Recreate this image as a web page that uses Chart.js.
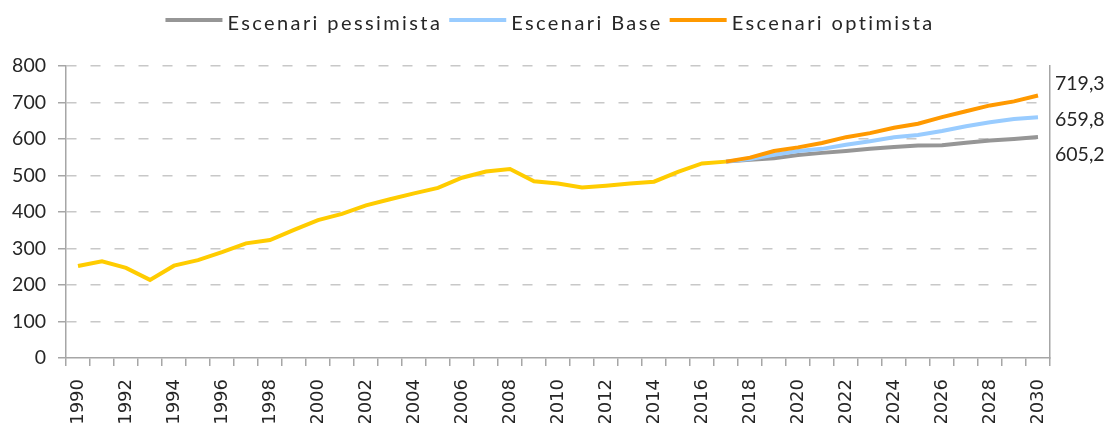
<!DOCTYPE html>
<html>
<head>
<meta charset="utf-8">
<script src="https://cdn.jsdelivr.net/npm/chart.js@4/dist/chart.umd.min.js"></script>
<style>
html,body{margin:0;padding:0;background:#ffffff;}
#wrap{width:1112px;height:423px;position:relative;}
</style>
</head>
<body>
<div id="wrap"><canvas id="c" width="1112" height="423"></canvas></div>
<script>
// ---- data ----
const categories = ['1990','1991','1992','1993','1994','1995','1996','1997','1998','1999',
  '2000','2001','2002','2003','2004','2005','2006','2007','2008','2009',
  '2010','2011','2012','2013','2014','2015','2016','2017','2018','2019',
  '2020','2021','2022','2023','2024','2025','2026','2027','2028','2029','2030'];

const historic = [252,265,247,214,253,268,290,314,323,351,
  378,395,418,435,451,466,494,511,518,484,
  478,467,472,478,483,510,533,538,
  null,null,null,null,null,null,null,null,null,null,null,null,null];

const leadNulls = [null,null,null,null,null,null,null,null,null,null,
  null,null,null,null,null,null,null,null,null,null,
  null,null,null,null,null,null,null];

const pessimista = leadNulls.concat([538,543,547,556,562,567,573,578,582,583,590,596,600,605.2]);
const base       = leadNulls.concat([538,545,557,567,573,584,594,605,611,622,635,646,655,659.8]);
const optimista  = leadNulls.concat([538,549,567,577,589,605,616,631,642,660,676,692,703,719.3]);

const seriesNames = ['Històric','Escenari pessimista','Escenari Base','Escenari optimista'];
const yTicks = [0,100,200,300,400,500,600,700,800];

// ---- styles ----
const colors = ['#FFCC00','#969696','#99CCFF','#FF9900'];
const axisGray = '#a6a6a6';
const gridGray = '#c8c8c8';
const textColor = '#262626';

const legendPlugin = {
  id: 'customLegend',
  afterDraw(chart) {
    const ctx = chart.ctx;
    ctx.save();
    ctx.font = '20px Lato';
    ctx.letterSpacing = '2.4px';
    ctx.textBaseline = 'alphabetic';
    const items = chart.data.datasets.filter(d => d.showInLegend);
    const lineLen = 57, gapLT = 5, gapItem = 7;
    let total = 0;
    const widths = items.map(d => ctx.measureText(d.label).width);
    items.forEach((d, i) => { total += lineLen + gapLT + widths[i] + (i < items.length - 1 ? gapItem : 0); });
    let x = chart.width / 2 - 6 - total / 2;
    const yLine = 20, yText = 30;
    items.forEach((d, i) => {
      ctx.strokeStyle = d.borderColor;
      ctx.lineWidth = 4;
      ctx.beginPath();
      ctx.moveTo(x, yLine);
      ctx.lineTo(x + lineLen, yLine);
      ctx.stroke();
      x += lineLen + gapLT;
      ctx.fillStyle = textColor;
      ctx.textAlign = 'left';
      ctx.fillText(d.label, x, yText);
      x += widths[i] + gapItem;
    });
    ctx.restore();
  }
};

const endLabelPlugin = {
  id: 'endLabels',
  afterDraw(chart) {
    const ctx = chart.ctx;
    const ys = chart.scales.y;
    const area = chart.chartArea;
    const last = categories.length - 1;
    const items = chart.data.datasets.filter(d => d.showInLegend)
      .map(d => d.data[last])
      .sort((a, b) => b - a);
    const pix = items.map(v => ys.getPixelForValue(v));
    const mean = pix.reduce((a, b) => a + b, 0) / pix.length;
    ctx.save();
    ctx.font = '19.5px Lato';
    ctx.fillStyle = textColor;
    ctx.textAlign = 'left';
    ctx.textBaseline = 'middle';
    items.forEach((v, i) => {
      const y = mean + 3 + (i - (items.length - 1) / 2) * 35.5;
      ctx.fillText(v.toFixed(1).replace('.', ','), area.right + 5, y);
    });
    ctx.restore();
  }
};

const mk = (label, data, color, order, inLegend) => ({
  label, data,
  borderColor: color, backgroundColor: color,
  borderWidth: 4, pointRadius: 0, pointHoverRadius: 0,
  tension: 0, fill: false, spanGaps: false,
  order, showInLegend: inLegend
});

new Chart(document.getElementById('c'), {
  type: 'line',
  data: {
    labels: categories,
    datasets: [
      mk(seriesNames[0], historic, colors[0], 4, false),
      mk(seriesNames[1], pessimista, colors[1], 3, true),
      mk(seriesNames[2], base, colors[2], 2, true),
      mk(seriesNames[3], optimista, colors[3], 1, true)
    ]
  },
  options: {
    responsive: false,
    devicePixelRatio: 1,
    animation: false,
    layout: { padding: { top: 66, right: 62, left: 0, bottom: 0 } },
    plugins: { legend: { display: false }, tooltip: { enabled: false } },
    scales: {
      x: {
        type: 'category',
        offset: true,
        grid: { display: true, drawOnChartArea: false, drawTicks: true, tickLength: 8,
                color: axisGray, tickColor: axisGray, lineWidth: 1.5, offset: true },
        border: { display: true, color: axisGray, width: 1.5 },
        ticks: {
          autoSkip: false, minRotation: 90, maxRotation: 90, padding: 13,
          font: { family: 'DejaVu Sans', size: 18 }, color: textColor,
          callback: (v, i) => (i % 2 === 0 ? categories[i] : '')
        },
        afterFit: s => { s.height = 65; }
      },
      y: {
        min: yTicks[0], max: yTicks[yTicks.length - 1],
        afterBuildTicks: s => { s.ticks = yTicks.map(v => ({ value: v })); },
        grid: {
          color: ctx => (ctx.tick && ctx.tick.value === 0 ? 'rgba(0,0,0,0)' : gridGray),
          lineWidth: 1.5, tickLength: 8, tickColor: axisGray, tickWidth: 1.5, tickBorderDash: []
        },
        border: { display: true, color: axisGray, width: 1.5, dash: [10, 14] },
        ticks: { padding: 12, font: { family: 'Lato', size: 19.5 }, color: textColor },
        afterFit: s => { s.width = 66; }
      },
      y2: {
        position: 'right',
        grid: { display: false, drawTicks: false },
        ticks: { display: false },
        border: { display: true, color: axisGray, width: 1.5 },
        afterFit: s => { s.width = 0; }
      }
    }
  },
  plugins: [legendPlugin, endLabelPlugin]
});
</script>
</body>
</html>
